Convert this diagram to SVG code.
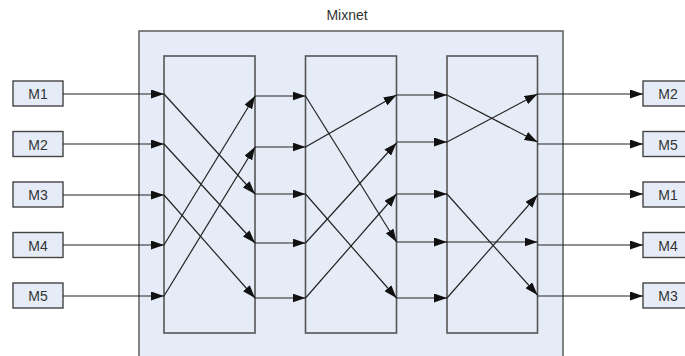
<svg xmlns="http://www.w3.org/2000/svg" width="685" height="356" viewBox="0 0 685 356">
  <defs>
    <marker id="arrow" markerUnits="userSpaceOnUse" markerWidth="13" markerHeight="9" refX="13" refY="4.5" orient="auto">
      <path d="M0,0 L13,4.5 L0,9 z" fill="#111"/>
    </marker>
    <style>
      .outer { fill: #e6ecf7; stroke: #666; stroke-width: 1.6; }
      .stage { fill: #e6ecf7; stroke: #555; stroke-width: 1.6; }
      .msg { fill: #e6ecf7; stroke: #444; stroke-width: 1.4; }
      .label { font-family: "Liberation Sans", Arial, sans-serif; font-size: 14px; fill: #333; text-anchor: middle; }
      .conn line { stroke: #222; stroke-width: 1.2; fill: none; }
      .conn line.arr { marker-end: url(#arrow); }
    </style>
  </defs>

  <rect width="685" height="356" fill="#fff"/>

  <!-- mixnet container -->
  <g id="mixnet">
    <rect class="outer" x="139" y="31" width="424" height="340"/>
    <text class="label" x="347" y="20">Mixnet</text>
  </g>

  <!-- mixing stages -->
  <g id="stage1"><rect class="stage" x="164" y="56" width="91" height="277"/></g>
  <g id="stage2"><rect class="stage" x="305.5" y="56" width="91" height="277"/></g>
  <g id="stage3"><rect class="stage" x="447" y="56" width="90.5" height="277"/></g>

  <!-- input messages -->
  <g id="in-m1"><rect class="msg" x="13" y="81" width="50" height="25"/><text class="label" x="38" y="99">M1</text></g>
  <g id="in-m2"><rect class="msg" x="13" y="131.5" width="50" height="25"/><text class="label" x="38" y="149.5">M2</text></g>
  <g id="in-m3"><rect class="msg" x="13" y="182" width="50" height="25"/><text class="label" x="38" y="200">M3</text></g>
  <g id="in-m4"><rect class="msg" x="13" y="232.5" width="50" height="25"/><text class="label" x="38" y="250.5">M4</text></g>
  <g id="in-m5"><rect class="msg" x="13" y="283" width="50" height="25"/><text class="label" x="38" y="301">M5</text></g>

  <!-- output messages -->
  <g id="out-m2"><rect class="msg" x="643" y="81" width="52" height="25"/><text class="label" x="668" y="99">M2</text></g>
  <g id="out-m5"><rect class="msg" x="643" y="131.5" width="52" height="25"/><text class="label" x="668" y="149.5">M5</text></g>
  <g id="out-m1"><rect class="msg" x="643" y="182" width="52" height="25"/><text class="label" x="668" y="200">M1</text></g>
  <g id="out-m4"><rect class="msg" x="643" y="232.5" width="52" height="25"/><text class="label" x="668" y="250.5">M4</text></g>
  <g id="out-m3"><rect class="msg" x="643" y="283" width="52" height="25"/><text class="label" x="668" y="301">M3</text></g>

  <g id="connectors" class="conn">
    <!-- inputs into stage 1 -->
    <line class="arr" x1="63" y1="94" x2="164" y2="94"/>
    <line class="arr" x1="63" y1="144" x2="164" y2="144"/>
    <line class="arr" x1="63" y1="195" x2="164" y2="195"/>
    <line class="arr" x1="63" y1="245" x2="164" y2="245"/>
    <line class="arr" x1="63" y1="296" x2="164" y2="296"/>

    <!-- stage 1 permutation -->
    <line class="arr" x1="164" y1="94" x2="255" y2="194"/>
    <line class="arr" x1="164" y1="144" x2="255" y2="243"/>
    <line class="arr" x1="164" y1="195" x2="255" y2="298"/>
    <line class="arr" x1="164" y1="245" x2="255" y2="96"/>
    <line class="arr" x1="164" y1="296" x2="255" y2="147"/>

    <!-- stage 1 to stage 2 -->
    <line class="arr" x1="255" y1="96" x2="305.5" y2="96"/>
    <line class="arr" x1="255" y1="147" x2="305.5" y2="147"/>
    <line class="arr" x1="255" y1="194" x2="305.5" y2="194"/>
    <line class="arr" x1="255" y1="243" x2="305.5" y2="243"/>
    <line class="arr" x1="255" y1="298" x2="305.5" y2="298"/>

    <!-- stage 2 permutation -->
    <line class="arr" x1="305.5" y1="96" x2="396.5" y2="242"/>
    <line class="arr" x1="305.5" y1="147" x2="396.5" y2="95"/>
    <line class="arr" x1="305.5" y1="194" x2="396.5" y2="298"/>
    <line class="arr" x1="305.5" y1="243" x2="396.5" y2="143"/>
    <line class="arr" x1="305.5" y1="298" x2="396.5" y2="194"/>

    <!-- stage 2 to stage 3 -->
    <line class="arr" x1="396.5" y1="95" x2="447" y2="95"/>
    <line class="arr" x1="396.5" y1="142" x2="447" y2="142"/>
    <line class="arr" x1="396.5" y1="194" x2="447" y2="194"/>
    <line class="arr" x1="396.5" y1="242" x2="447" y2="242"/>
    <line class="arr" x1="396.5" y1="298" x2="447" y2="298"/>

    <!-- stage 3 permutation -->
    <line class="arr" x1="447" y1="95" x2="537.5" y2="142"/>
    <line class="arr" x1="447" y1="142" x2="537.5" y2="94"/>
    <line class="arr" x1="447" y1="194" x2="537.5" y2="295"/>
    <line class="arr" x1="447" y1="242" x2="537.5" y2="242"/>
    <line class="arr" x1="447" y1="298" x2="537.5" y2="195"/>

    <!-- outputs -->
    <line class="arr" x1="537.5" y1="94" x2="643" y2="94"/>
    <line class="arr" x1="537.5" y1="144" x2="643" y2="144"/>
    <line class="arr" x1="537.5" y1="194" x2="643" y2="194"/>
    <line class="arr" x1="537.5" y1="245" x2="643" y2="245"/>
    <line class="arr" x1="537.5" y1="296" x2="643" y2="296"/>
  </g>
</svg>
